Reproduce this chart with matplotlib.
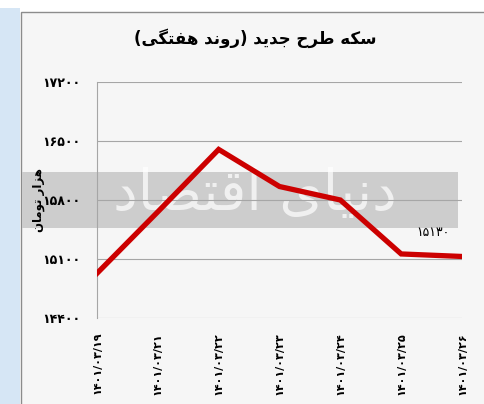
import matplotlib
matplotlib.use("Agg")
import matplotlib.pyplot as plt
from matplotlib.patches import Rectangle

# data
dates = ['۱۴۰۱/۰۳/۱۹', '۱۴۰۱/۰۳/۲۱', '۱۴۰۱/۰۳/۲۲', '۱۴۰۱/۰۳/۲۳',
         '۱۴۰۱/۰۳/۲۴', '۱۴۰۱/۰۳/۲۵', '۱۴۰۱/۰۳/۲۶']
prices = [14930, 15660, 16400, 15960, 15800, 15160, 15130]
y_ticks = [14400, 15100, 15800, 16500, 17200]
y_tick_labels = ['۱۴۴۰۰', '۱۵۱۰۰', '۱۵۸۰۰', '۱۶۵۰۰', '۱۷۲۰۰']
last_label = '۱۵۱۳۰'
title = 'سکه طرح جدید (روند هفتگی)'
y_label = 'هزار تومان'
watermark = 'دنیای اقتصاد'

# matplotlib has no arabic shaping -> map letters to presentation forms by hand
# (isolated, final, initial, medial)
FORMS = {
    'ا': ('\uFE8D', '\uFE8E'),
    'د': ('\uFEA9', '\uFEAA'),
    'ر': ('\uFEAD', '\uFEAE'),
    'ز': ('\uFEAF', '\uFEB0'),
    'و': ('\uFEED', '\uFEEE'),
    'ت': ('\uFE95', '\uFE96', '\uFE97', '\uFE98'),
    'ج': ('\uFE9D', '\uFE9E', '\uFE9F', '\uFEA0'),
    'ح': ('\uFEA1', '\uFEA2', '\uFEA3', '\uFEA4'),
    'س': ('\uFEB1', '\uFEB2', '\uFEB3', '\uFEB4'),
    'ص': ('\uFEB9', '\uFEBA', '\uFEBB', '\uFEBC'),
    'ط': ('\uFEC1', '\uFEC2', '\uFEC3', '\uFEC4'),
    'ف': ('\uFED1', '\uFED2', '\uFED3', '\uFED4'),
    'ق': ('\uFED5', '\uFED6', '\uFED7', '\uFED8'),
    'ک': ('\uFB8E', '\uFB8F', '\uFB90', '\uFB91'),
    'گ': ('\uFB92', '\uFB93', '\uFB94', '\uFB95'),
    'م': ('\uFEE1', '\uFEE2', '\uFEE3', '\uFEE4'),
    'ن': ('\uFEE5', '\uFEE6', '\uFEE7', '\uFEE8'),
    'ه': ('\uFEE9', '\uFEEA', '\uFEEB', '\uFEEC'),
    'ی': ('\uFBFC', '\uFBFD', '\uFBFE', '\uFBFF'),
}


def fa(s):
    out = []
    for i, c in enumerate(s):
        if c not in FORMS:
            out.append(c)
            continue
        prev = s[i - 1] if i > 0 else ''
        nxt = s[i + 1] if i + 1 < len(s) else ''
        jp = prev in FORMS and len(FORMS[prev]) == 4
        jn = nxt in FORMS and len(FORMS[c]) == 4
        f = FORMS[c]
        if len(f) == 2:
            out.append(f[1] if jp else f[0])
        elif jp and jn:
            out.append(f[3])
        elif jp:
            out.append(f[1])
        elif jn:
            out.append(f[2])
        else:
            out.append(f[0])
    vis = ''.join(out)[::-1]
    return vis.translate(str.maketrans('()', ')('))


plt.rcParams['font.family'] = ['DejaVu Sans']

W, H = 485, 404
fig = plt.figure(figsize=(W / 100, H / 100), dpi=100)
fig.patch.set_facecolor('white')

# frame like the screenshot
fig.patches.append(Rectangle((0, 0), 20 / W, 1 - 8 / H, transform=fig.transFigure,
                             facecolor='#d6e6f5', edgecolor='none', zorder=0))
fig.patches.append(Rectangle((21 / W, -0.01), 1, 1 - 12 / H + 0.01, transform=fig.transFigure,
                             facecolor='#f6f6f6', edgecolor='#8c8c8c', linewidth=1.0, zorder=0))
# watermark band
fig.patches.append(Rectangle((22 / W, 1 - 228 / H), 436 / W, 56 / H, transform=fig.transFigure,
                             facecolor='#cdcdcd', edgecolor='none', zorder=0.5))
fig.text(255 / W, 1 - 195 / H, fa(watermark), fontsize=40, color='white', alpha=0.7,
         ha='center', va='center', zorder=0.6)

ax = fig.add_axes([97 / W, 1 - 318 / H, (462 - 97) / W, (318 - 82) / H])
ax.set_facecolor('none')
ax.set_zorder(1)

x = list(range(len(dates)))
ax.plot(x, prices, color='#cc0000', linewidth=3.8, solid_joinstyle='miter', zorder=3)

ax.set_xlim(0, len(dates) - 1)
ax.set_ylim(y_ticks[0], y_ticks[-1])
ax.set_yticks(y_ticks)
ax.set_yticklabels(y_tick_labels, fontsize=9, fontweight='bold')
ax.set_xticks(x)
ax.set_xticklabels(dates, rotation=90, fontsize=8, fontweight='bold')
ax.tick_params(axis='both', length=0)
ax.tick_params(axis='y', pad=12)
ax.tick_params(axis='x', pad=10)

ax.grid(axis='y', color='#a6a6a6', linewidth=0.8)
for side in ['top', 'right', 'bottom']:
    ax.spines[side].set_visible(False)
ax.spines['left'].set_color('#a6a6a6')
ax.spines['left'].set_linewidth(0.8)

ax.annotate(last_label, xy=(x[-1], prices[-1]), xytext=(-21, 17), textcoords='offset points',
            fontsize=9, ha='center', va='center')

ax.set_ylabel(fa(y_label), fontsize=8.5, fontweight='bold')
ax.yaxis.set_label_coords(-52 / 365, 0.5)

fig.text(255 / W, 1 - 38 / H, fa(title), fontsize=12, fontweight='bold',
         ha='center', va='center')

fig.savefig('out.png', dpi=100)
